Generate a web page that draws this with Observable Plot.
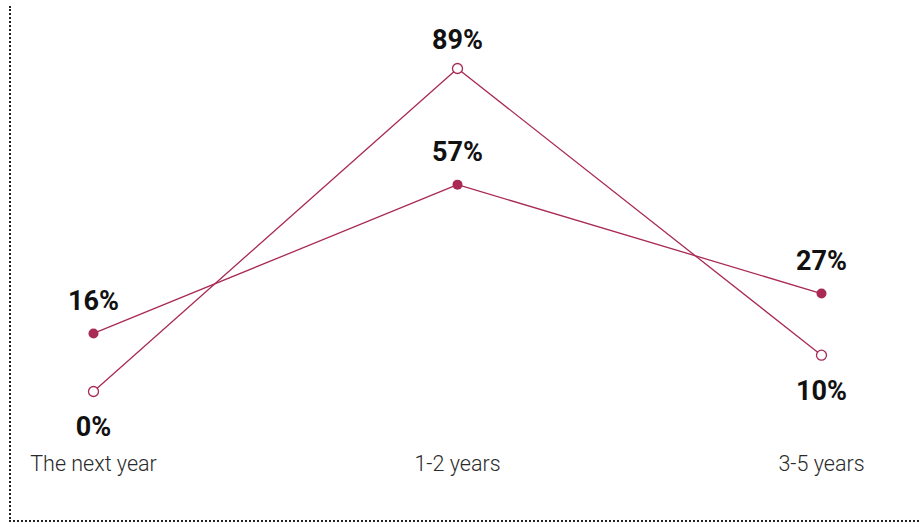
<!DOCTYPE html>
<html>
<head>
<meta charset="utf-8">
<script src="https://cdn.jsdelivr.net/npm/d3@7"></script>
<script src="https://cdn.jsdelivr.net/npm/@observablehq/plot@0.6"></script>
<style>
  html, body { margin: 0; padding: 0; background: #fff; }
  #wrap { position: relative; width: 919px; height: 524px; overflow: hidden; font-family: Roboto, sans-serif; }
  #frame { position: absolute; left: 9px; top: 6px; width: 920px; height: 514px;
           border-left: 2px dotted #222; border-bottom: 2px dotted #222; }
  #chart { position: absolute; left: 0; top: 0; }
</style>
</head>
<body>
<div id="wrap"><div id="frame"></div><div id="chart"></div></div>
<script>
const categories = ["The next year", "1-2 years", "3-5 years"];
const seriesFilled = [16, 57, 27];
const seriesOpen = [0, 89, 10];
const openLabelBelow = [true, false, true];

const color = "#a82a55";

const filled = categories.map((c, i) => ({cat: c, v: seriesFilled[i]}));
const open = categories.map((c, i) => ({cat: c, v: seriesOpen[i], below: openLabelBelow[i]}));

const labelStyle = {fontSize: 27, fontWeight: "bold", fill: "#111"};

const plot = Plot.plot({
  width: 919,
  height: 524,
  marginTop: 0, marginBottom: 76, marginLeft: 0, marginRight: 0,
  style: {fontFamily: "Roboto, sans-serif", background: "transparent", overflow: "visible"},
  x: {type: "point", domain: categories, range: [93, 821], padding: 0, axis: null},
  y: {domain: [0, 89], range: [391, 68], axis: null},
  marks: [
    Plot.axisX({tickSize: 0, tickPadding: 7, fontSize: 21.5, fontWeight: 300, fill: "#2a2a2a", label: null}),
    Plot.line(filled, {x: "cat", y: "v", stroke: color, strokeWidth: 1.3}),
    Plot.line(open, {x: "cat", y: "v", stroke: color, strokeWidth: 1.3}),
    Plot.dot(filled, {x: "cat", y: "v", r: 5, fill: color, stroke: color, strokeWidth: 0}),
    Plot.dot(open, {x: "cat", y: "v", r: 5, fill: "white", stroke: color, strokeWidth: 1.3}),
    Plot.text(filled, {x: "cat", y: "v", text: d => d.v + "%", dy: -32, ...labelStyle}),
    Plot.text(open.filter(d => !d.below), {x: "cat", y: "v", text: d => d.v + "%", dy: -28, ...labelStyle}),
    Plot.text(open.filter(d => d.below), {x: "cat", y: "v", text: d => d.v + "%", dy: 36, ...labelStyle})
  ]
});
document.getElementById("chart").appendChild(plot);
</script>
</body>
</html>
